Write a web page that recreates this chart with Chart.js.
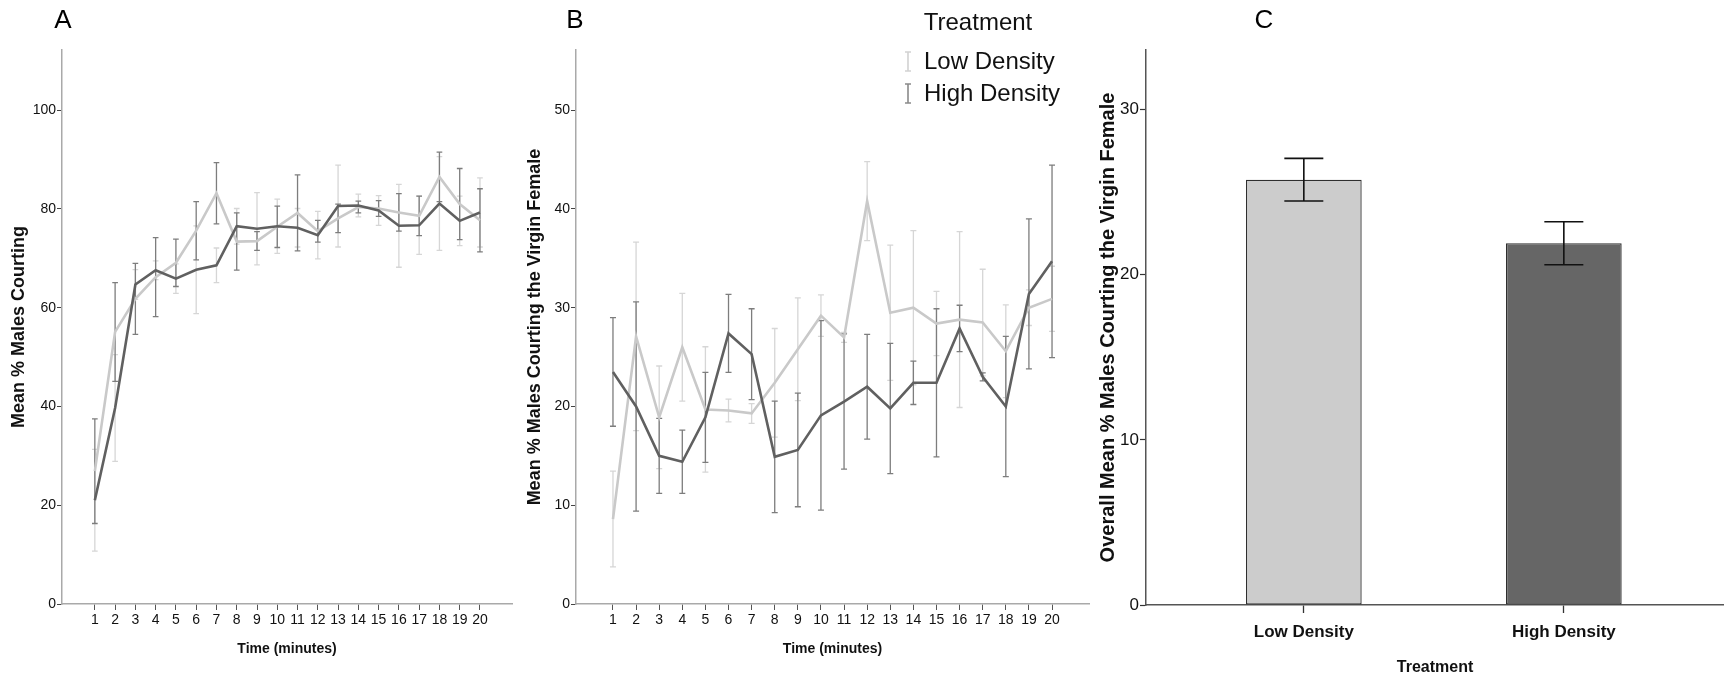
<!DOCTYPE html>
<html>
<head>
<meta charset="utf-8">
<title>Males courting by density</title>
<script src="https://cdn.jsdelivr.net/npm/chart.js@4.4.1/dist/chart.umd.min.js"></script>
<style>
  html, body { margin: 0; padding: 0; background: #fff; }
  #wrap { position: relative; width: 1724px; height: 677px; overflow: hidden; }
  .panel { position: absolute; top: 0; }
</style>
</head>
<body>
<div id="wrap">
  <div class="panel" style="left:0"><canvas id="chartA" width="520" height="677"></canvas></div>
  <div class="panel" style="left:515px"><canvas id="chartB" width="580" height="677"></canvas></div>
  <div class="panel" style="left:1090px"><canvas id="chartC" width="634" height="677"></canvas></div>
</div>
<script>
// data
const minutes = [1, 2, 3, 4, 5, 6, 7, 8, 9, 10, 11, 12, 13, 14, 15, 16, 17, 18, 19, 20];

// panel A: mean % males courting
const lowA     = [26.9, 55.1, 61.8, 66.2, 69.1, 75.6, 83.2, 73.4, 73.5, 76.4, 79.2, 75.5, 78.1, 80.4, 80.1, 79.3, 78.6, 86.5, 81.0, 77.7];
const lowAErr  = [10.6, 10.0, 7.2, 8.0, 4.8, 5.9, 6.2, 5.8, 1.9, 4.2, 7.7, 2.2, 2.9, 1.2, 1.6, 3.8, 4.0, 5.0, 7.2, 6.4];
const highA    = [21.0, 39.7, 64.7, 67.6, 65.9, 67.7, 68.6, 76.5, 76.0, 76.5, 76.2, 74.7, 80.6, 80.7, 79.7, 76.6, 76.7, 81.1, 77.6, 79.3];
const highAErr = [10.3, 10.8, 3.0, 1.9, 3.0, 8.9, 3.5, 3.6, 7.3, 5.5, 3.9, 4.8, 8.3, 2.3, 3.0, 8.4, 5.9, 9.5, 5.0, 7.0];

// panel B: mean % males courting the virgin female
const lowB     = [8.6, 27.1, 18.9, 26.0, 19.7, 19.6, 19.3, 22.4, 25.8, 29.2, 27.0, 40.8, 29.5, 30.0, 28.4, 28.8, 28.5, 25.6, 30.0, 30.9];
const lowBErr  = [4.85, 9.55, 5.2, 5.45, 6.35, 1.15, 1.0, 5.5, 5.2, 2.1, 0.5, 4.0, 6.85, 7.8, 3.25, 8.9, 5.4, 4.7, 1.8, 3.3];
const highB    = [23.5, 20.0, 15.0, 14.4, 18.9, 27.4, 25.3, 14.9, 15.6, 19.1, 20.5, 22.0, 19.8, 22.4, 22.4, 27.9, 23.0, 20.0, 31.4, 34.7];
const highBErr = [5.5, 10.6, 3.8, 3.2, 4.55, 3.95, 4.6, 5.65, 5.75, 9.6, 6.85, 5.3, 6.6, 2.2, 7.5, 2.35, 0.4, 7.1, 7.6, 9.75];

// panel C: overall mean
const treatments  = ['Low Density', 'High Density'];
const overallMean = [25.75, 21.9];
const overallErr  = [1.29, 1.3];

const FONT = "'Liberation Sans', Arial, sans-serif";
const LIGHT = '#c9c9c9', DARK = '#606060';
const LIGHT_ERR = '#d6d6d6', DARK_ERR = '#7d7d7d';
const AXIS = '#a9a9a9', TXT = '#111';

function pts(vals) {
	return minutes.map((m, i) => ({x: m, y: vals[i]}));
}

// error bars drawn from the chart scales
const errorBars = {
	id: 'errorBars',
	beforeDatasetsDraw(chart, args, o) { if (!o.onTop) drawErr(chart, o); },
	afterDatasetsDraw(chart, args, o) { if (o.onTop) drawErr(chart, o); }
};
function drawErr(chart, o) {
	const {ctx, scales: {x, y}} = chart;
	(o.sets || []).forEach(s => {
		ctx.save();
		ctx.strokeStyle = s.color;
		ctx.lineWidth = s.width;
		s.mean.forEach((m, i) => {
			const px = x.getPixelForValue(s.at[i]);
			const cap = x.getPixelForValue(s.at[i] + s.cap) - px;
			const top = y.getPixelForValue(m + s.err[i]);
			const bot = y.getPixelForValue(m - s.err[i]);
			ctx.beginPath();
			ctx.moveTo(px, top); ctx.lineTo(px, bot);
			ctx.moveTo(px - cap, top); ctx.lineTo(px + cap, top);
			ctx.moveTo(px - cap, bot); ctx.lineTo(px + cap, bot);
			ctx.stroke();
		});
		ctx.restore();
	});
}

// panel letter A / B / C
const panelLetter = {
	id: 'panelLetter',
	afterDraw(chart, args, o) {
		const ctx = chart.ctx;
		ctx.save();
		ctx.font = '26px ' + FONT;
		ctx.fillStyle = '#000';
		ctx.textAlign = 'center';
		ctx.textBaseline = 'middle';
		ctx.fillText(o.text, o.x, o.y);
		ctx.restore();
	}
};

// "Treatment" legend with error-bar glyphs
const treatLegend = {
	id: 'treatLegend',
	afterDraw(chart, args, o) {
		if (!o.display) return;
		const ctx = chart.ctx;
		ctx.save();
		ctx.font = o.size + 'px ' + FONT;
		ctx.fillStyle = TXT;
		ctx.textBaseline = 'middle';
		ctx.textAlign = 'center';
		ctx.fillText(o.title, o.titleX, o.titleY);
		ctx.textAlign = 'left';
		o.items.forEach((it, i) => {
			const yy = o.itemY + i * o.gap;
			ctx.strokeStyle = it.color;
			ctx.lineWidth = 1.6;
			ctx.beginPath();
			ctx.moveTo(o.iconX, yy - 10); ctx.lineTo(o.iconX, yy + 9);
			ctx.moveTo(o.iconX - 3, yy - 10); ctx.lineTo(o.iconX + 3, yy - 10);
			ctx.moveTo(o.iconX - 3, yy + 9); ctx.lineTo(o.iconX + 3, yy + 9);
			ctx.stroke();
			ctx.fillText(it.text, o.textX, yy);
		});
		ctx.restore();
	}
};

function timeScales(xMin, xMax, yMax, yStep, yTitle, yWidth, yTitlePad) {
	return {
		x: {
			type: 'linear', min: xMin, max: xMax, bounds: 'data', offset: false,
			afterBuildTicks: s => { s.ticks = minutes.map(v => ({value: v})); },
			afterFit: s => { s.height = 73; },
			border: {display: true, color: AXIS, width: 1.5},
			grid: {drawOnChartArea: false, drawTicks: true, tickLength: 6, tickColor: '#555', tickWidth: 1},
			ticks: {autoSkip: false, maxRotation: 0, padding: 2, color: TXT, font: {family: FONT, size: 14}},
			title: {display: true, text: 'Time (minutes)', color: TXT,
				font: {family: FONT, size: 14, weight: 'bold'}, padding: {top: 0, bottom: 19}}
		},
		y: {
			min: 0, max: yMax, bounds: 'data',
			afterBuildTicks: s => { s.ticks = s.ticks.filter(t => t.value % yStep === 0); },
			afterFit: s => { s.width = yWidth; },
			border: {display: true, color: AXIS, width: 1.5},
			grid: {drawOnChartArea: false, drawTicks: true, tickLength: 5, tickColor: '#444', tickWidth: 1},
			ticks: {stepSize: yStep, includeBounds: false, padding: 1, color: TXT, font: {family: FONT, size: 14}},
			title: {display: true, text: yTitle, color: TXT,
				font: {family: FONT, size: 18, weight: 'bold'}, padding: {top: yTitlePad, bottom: 0}}
		}
	};
}

function lineSets(low, high) {
	return [
		{label: 'High Density', data: pts(high), borderColor: DARK, borderWidth: 2.6, pointRadius: 0, tension: 0, order: 0},
		{label: 'Low Density', data: pts(low), borderColor: LIGHT, borderWidth: 2.6, pointRadius: 0, tension: 0, order: 1}
	];
}

Chart.defaults.animation = false;
Chart.defaults.plugins.tooltip.enabled = false;

// A
new Chart(document.getElementById('chartA'), {
	type: 'line',
	data: {datasets: lineSets(lowA, highA)},
	options: {
		responsive: false,
		layout: {padding: {left: 0, top: 50, right: 8, bottom: 0}},
		scales: timeScales(-0.62, 21.58, 112.2, 20, 'Mean % Males Courting', 62, 8),
		plugins: {
			legend: {display: false},
			panelLetter: {text: 'A', x: 63, y: 21},
			// in this panel the darker bars go with the light line, as in the figure
			errorBars: {sets: [
				{at: minutes, mean: highA, err: highAErr, color: LIGHT_ERR, width: 1.3, cap: 0.14},
				{at: minutes, mean: lowA, err: lowAErr, color: DARK_ERR, width: 1.3, cap: 0.14}
			]}
		}
	},
	plugins: [errorBars, panelLetter]
});

// B
new Chart(document.getElementById('chartB'), {
	type: 'line',
	data: {datasets: lineSets(lowB, highB)},
	options: {
		responsive: false,
		layout: {padding: {left: 0, top: 50, right: 6, bottom: 0}},
		scales: timeScales(-0.6, 21.6, 56.1, 10, 'Mean % Males Courting the Virgin Female', 61, 9.5),
		plugins: {
			legend: {display: false},
			panelLetter: {text: 'B', x: 60, y: 21},
			errorBars: {sets: [
				{at: minutes, mean: lowB, err: lowBErr, color: LIGHT_ERR, width: 1.3, cap: 0.13},
				{at: minutes, mean: highB, err: highBErr, color: DARK_ERR, width: 1.3, cap: 0.13}
			]},
			treatLegend: {
				display: true, size: 24, title: 'Treatment', titleX: 463, titleY: 23,
				iconX: 393, textX: 409, itemY: 62, gap: 32,
				items: [{text: 'Low Density', color: '#d2d2d2'}, {text: 'High Density', color: '#8a8a8a'}]
			}
		}
	},
	plugins: [errorBars, panelLetter, treatLegend]
});

// C
new Chart(document.getElementById('chartC'), {
	type: 'bar',
	data: {
		datasets: [{
			label: 'Overall mean',
			data: treatments.map((t, i) => ({x: i + 1, y: overallMean[i]})),
			backgroundColor: ['#cccccc', '#666666'],
			borderColor: '#2e2e2e',
			borderWidth: 1.3,
			borderSkipped: false,
			categoryPercentage: 1,
			barPercentage: 0.445
		}]
	},
	options: {
		responsive: false,
		layout: {padding: {left: 0, top: 50, right: 0, bottom: 0}},
		scales: {
			x: {
				type: 'linear', min: 0.393, max: 2.616, bounds: 'data', offset: false,
				afterBuildTicks: s => { s.ticks = treatments.map((t, i) => ({value: i + 1})); },
				afterFit: s => { s.height = 72; },
				border: {display: true, color: '#555', width: 1.5},
				grid: {offset: false, drawOnChartArea: false, drawTicks: true, tickLength: 8, tickColor: '#333', tickWidth: 1.3},
				ticks: {autoSkip: false, maxRotation: 0, padding: 9, color: TXT,
					font: {family: FONT, size: 17, weight: 'bold'},
					callback: v => treatments[v - 1]},
				title: {display: true, text: 'Treatment', color: TXT,
					font: {family: FONT, size: 16, weight: 'bold'}, padding: {top: 0, bottom: 0}}
			},
			y: {
				min: 0, max: 33.6, bounds: 'data',
				afterBuildTicks: s => { s.ticks = s.ticks.filter(t => t.value % 10 === 0); },
				afterFit: s => { s.width = 56; },
				border: {display: true, color: '#555', width: 1.5},
				grid: {drawOnChartArea: false, drawTicks: true, tickLength: 6, tickColor: '#333', tickWidth: 1.2},
				ticks: {stepSize: 10, includeBounds: false, padding: 1, color: TXT, font: {family: FONT, size: 17}},
				title: {display: true, text: 'Overall Mean % Males Courting the Virgin Female', color: TXT,
					font: {family: FONT, size: 20, weight: 'bold'}, padding: {top: 6, bottom: 0}}
			}
		},
		plugins: {
			legend: {display: false},
			panelLetter: {text: 'C', x: 174, y: 21},
			errorBars: {onTop: true, sets: [
				{at: [1, 2], mean: overallMean, err: overallErr, color: '#111', width: 1.6, cap: 0.075}
			]}
		}
	},
	plugins: [errorBars, panelLetter]
});
</script>
</body>
</html>
